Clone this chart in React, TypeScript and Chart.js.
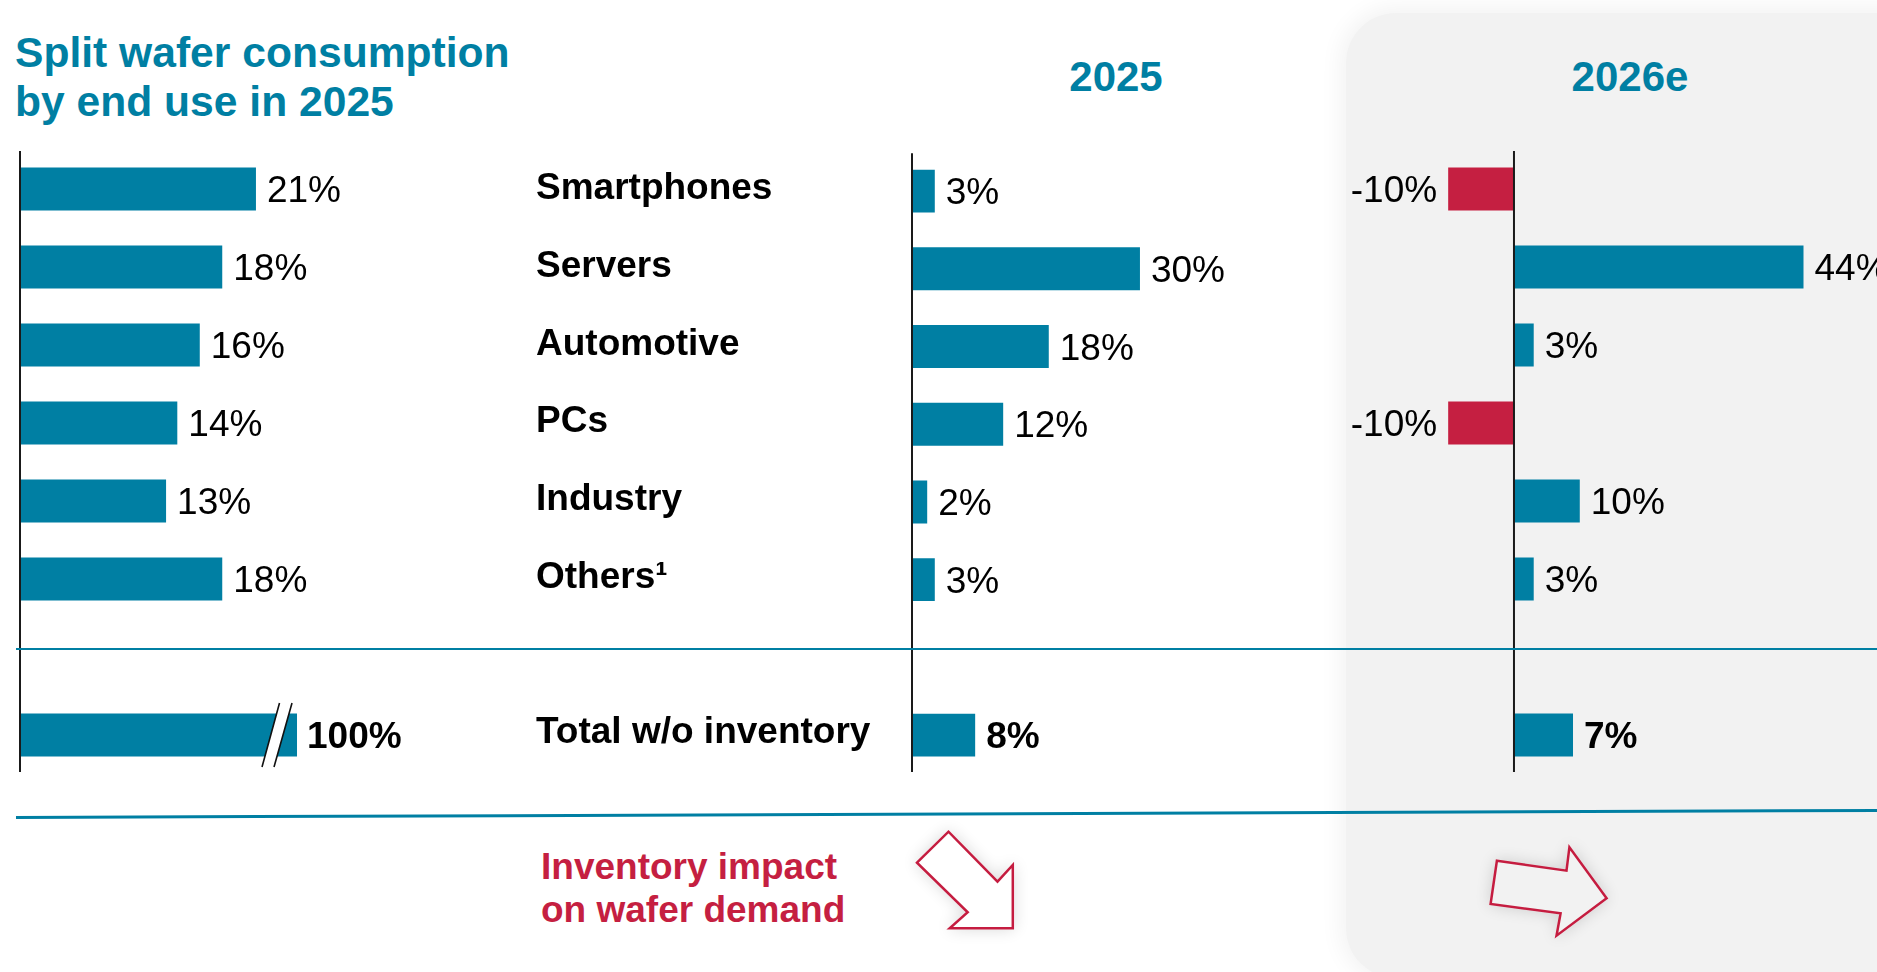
import React, { useEffect, useRef } from "react";
import { Chart, registerables } from "chart.js";

Chart.register(...registerables);

// ---------- data ----------
const categories = ["Smartphones", "Servers", "Automotive", "PCs", "Industry", "Others\u00B9"];
const totalLabel = "Total w/o inventory";
const share2025 = [21, 18, 16, 14, 13, 18];
const shareTotal = 100;
const growth2025 = [3, 30, 18, 12, 2, 3];
const growth2025Total = 8;
const growth2026 = [-10, 44, 3, -10, 10, 3];
const growth2026Total = 7;
const headers = ["2025", "2026e"];
const titleLines = ["Split wafer consumption", "by end use in 2025"];
const noteLines = ["Inventory impact", "on wafer demand"];

// ---------- style ----------
const TEAL = "#007fa3";
const RED = "#c51f41";
const FONT = '"Liberation Sans", Arial, Helvetica, sans-serif';

const decorPlugin = {
  id: "decor",
  afterDatasetsDraw(chart: any) {
    const ctx = chart.ctx;
    const area = chart.chartArea;
    const x0 = chart.scales.x.getPixelForValue(0);
    ctx.save();
    ctx.strokeStyle = "#1a1a1a";
    ctx.lineWidth = 2;
    ctx.beginPath();
    ctx.moveTo(x0, area.top + 1);
    ctx.lineTo(x0, area.bottom - 2);
    ctx.stroke();

    chart.data.datasets.forEach((ds: any, i: number) => {
      const meta = chart.getDatasetMeta(i);
      meta.data.forEach((el: any, j: number) => {
        const v = ds.data[j];
        if (v == null) return;
        const { x, y } = el.getProps(["x", "y"], true);
        if (ds.breakBar) {
          // broken-axis marker
          ctx.fillStyle = "#ffffff";
          ctx.beginPath();
          ctx.moveTo(x - 35, y + 32);
          ctx.lineTo(x - 17.5, y - 32);
          ctx.lineTo(x - 5, y - 32);
          ctx.lineTo(x - 23, y + 32);
          ctx.closePath();
          ctx.fill();
          ctx.strokeStyle = "#111";
          ctx.lineWidth = 1.6;
          ctx.beginPath();
          ctx.moveTo(x - 35, y + 32);
          ctx.lineTo(x - 17.5, y - 32);
          ctx.moveTo(x - 23, y + 32);
          ctx.lineTo(x - 5, y - 32);
          ctx.stroke();
        }
        ctx.font = `${ds.bold ? "bold " : ""}37px ${FONT}`;
        ctx.fillStyle = "#000";
        ctx.textBaseline = "middle";
        const gap = ds.breakBar ? 10 : 11;
        if (v >= 0) {
          ctx.textAlign = "left";
          ctx.fillText(`${v}%`, x + gap, y + 3);
        } else {
          ctx.textAlign = "right";
          ctx.fillText(`${v}%`, x - gap, y + 3);
        }
      });
    });
    ctx.restore();
  },
};

type PanelProps = {
  left: number;
  width: number;
  values: number[];
  total: number;
  xRange: [number, number];
  x2Range: [number, number];
  padLeft: number;
  showCategories?: boolean;
  yAxisWidth?: number;
  breakTotal?: boolean;
};

function Panel(p: PanelProps) {
  const ref = useRef<HTMLCanvasElement>(null);
  useEffect(() => {
    const labels = [...categories, "", totalLabel];
    const rowData: (number | null)[] = [...p.values, null, null];
    const totData: (number | null)[] = [null, null, null, null, null, null, null, p.total];
    const color = (v: number | null) => (v != null && v < 0 ? RED : TEAL);
    const chart = new Chart(ref.current as HTMLCanvasElement, {
      type: "bar",
      data: {
        labels,
        datasets: [
          {
            data: rowData,
            xAxisID: "x",
            backgroundColor: rowData.map(color),
            grouped: false,
            barPercentage: 0.551,
            categoryPercentage: 1,
            bold: false,
          } as any,
          {
            data: totData,
            xAxisID: "x2",
            backgroundColor: totData.map(color),
            grouped: false,
            barPercentage: 0.551,
            categoryPercentage: 1,
            bold: true,
            breakBar: !!p.breakTotal,
          } as any,
        ],
      },
      options: {
        indexAxis: "y",
        animation: false,
        responsive: false,
        maintainAspectRatio: false,
        events: [],
        layout: { padding: { left: p.padLeft, right: 0, top: 20, bottom: 26 } },
        plugins: { legend: { display: false }, tooltip: { enabled: false }, title: { display: false } },
        scales: {
          x: { display: false, min: p.xRange[0], max: p.xRange[1] },
          x2: { display: false, min: p.x2Range[0], max: p.x2Range[1], position: "bottom" },
          y: {
            display: !!p.showCategories,
            grid: { display: false, drawTicks: false },
            border: { display: false },
            ticks: {
              crossAlign: "far",
              padding: 0,
              labelOffset: -2,
              autoSkip: false,
              color: "#000",
              font: { family: FONT, size: 37, weight: "bold" },
            },
            afterFit: (s: any) => {
              if (p.yAxisWidth) s.width = p.yAxisWidth;
            },
          },
        },
      } as any,
      plugins: [decorPlugin],
    });
    return () => chart.destroy();
  }, []);
  return (
    <canvas
      ref={ref}
      width={p.width}
      height={670}
      style={{ position: "absolute", left: p.left, top: 130, width: p.width, height: 670 }}
    />
  );
}

export default function App() {
  return (
    <div
      style={{
        position: "fixed",
        left: 0,
        top: 0,
        width: 1877,
        height: 972,
        overflow: "hidden",
        background: "#ffffff",
        fontFamily: FONT,
      }}
    >
      {/* grey 2026e panel */}
      <div
        style={{
          position: "absolute",
          left: 1346,
          top: 13,
          width: 700,
          height: 965,
          borderRadius: 50,
          background: "#f2f2f2",
          boxShadow: "0 0 22px 6px rgba(0,0,0,0.05)",
        }}
      />

      {/* title */}
      <div
        style={{
          position: "absolute",
          left: 15,
          top: 28,
          fontSize: 42.6,
          lineHeight: "49px",
          fontWeight: "bold",
          color: TEAL,
          whiteSpace: "nowrap",
        }}
      >
        {titleLines.map((t) => (
          <div key={t}>{t}</div>
        ))}
      </div>

      {/* column headers */}
      {headers.map((h, i) => (
        <div
          key={h}
          style={{
            position: "absolute",
            left: (i === 0 ? 1116 : 1630) - 150,
            width: 300,
            top: 56,
            textAlign: "center",
            fontSize: 42,
            lineHeight: "42px",
            fontWeight: "bold",
            color: TEAL,
          }}
        >
          {h}
        </div>
      ))}

      <Panel left={0} width={520} values={share2025} total={shareTotal} xRange={[0, 44.5]} x2Range={[0, 180.5]} padLeft={20} breakTotal />
      <Panel
        left={536}
        width={800}
        values={growth2025}
        total={growth2025Total}
        xRange={[0, 55.8]}
        x2Range={[0, 53.7]}
        padLeft={0}
        showCategories
        yAxisWidth={376}
      />
      <Panel left={1340} width={537} values={growth2026} total={growth2026Total} xRange={[-26.44, 55.17]} x2Range={[-20.64, 43.06]} padLeft={0} />

      {/* note text */}
      <div
        style={{
          position: "absolute",
          left: 541,
          top: 845,
          fontSize: 37,
          lineHeight: "43px",
          fontWeight: "bold",
          color: RED,
          whiteSpace: "nowrap",
        }}
      >
        {noteLines.map((t) => (
          <div key={t}>{t}</div>
        ))}
      </div>

      {/* separator lines and arrows */}
      <svg
        width={1877}
        height={972}
        style={{ position: "absolute", left: 0, top: 0, pointerEvents: "none" }}
      >
        <defs>
          <filter id="glow" x="-50%" y="-50%" width="200%" height="200%">
            <feGaussianBlur in="SourceAlpha" stdDeviation="8" />
            <feComponentTransfer>
              <feFuncA type="linear" slope="0.15" />
            </feComponentTransfer>
            <feMerge>
              <feMergeNode />
              <feMergeNode in="SourceGraphic" />
            </feMerge>
          </filter>
        </defs>
        <line x1={16} y1={649} x2={1877} y2={649} stroke={TEAL} strokeWidth={2} />
        <line x1={16} y1={817.5} x2={1877} y2={810.5} stroke={TEAL} strokeWidth={3} />
        <polygon
          points="917,862.7 948.5,831.7 997.5,881.7 1012.8,865 1012.8,928.3 949.7,928.3 967.7,912.3"
          fill="#ffffff"
          stroke={RED}
          strokeWidth={2.5}
          strokeLinejoin="miter"
          filter="url(#glow)"
        />
        <polygon
          points="1496.9,860.7 1566.5,870.7 1569.4,847.3 1606.6,898.3 1556.5,935.7 1560.6,913.3 1490.6,904"
          fill="#f2f2f2"
          stroke={RED}
          strokeWidth={2.5}
          strokeLinejoin="miter"
          filter="url(#glow)"
        />
      </svg>
    </div>
  );
}
